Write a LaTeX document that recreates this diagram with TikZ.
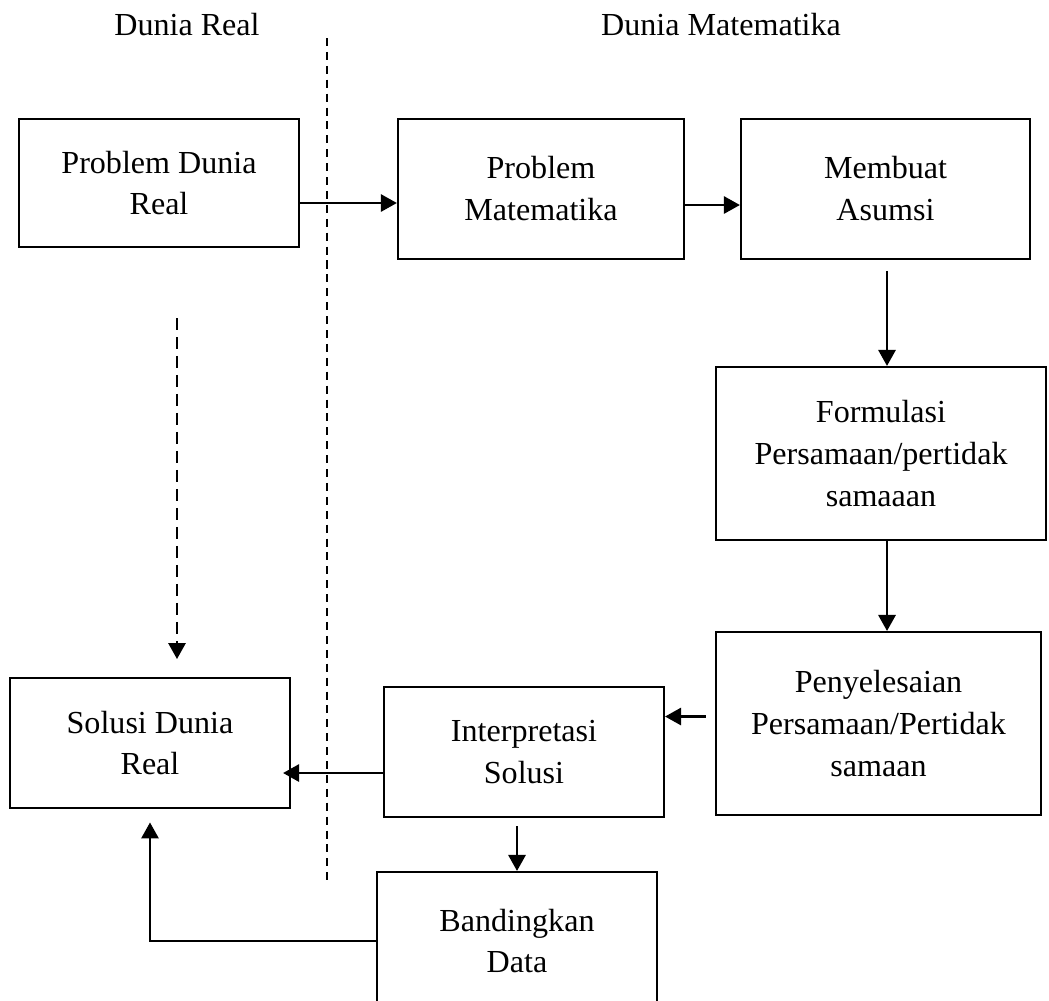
\documentclass[tikz,border=0pt]{standalone}
\usepackage{fontspec}
\setmainfont{Liberation Serif}
\usetikzlibrary{arrows.meta,calc}

\begin{document}
\begin{tikzpicture}[x=0.374pt,y=-0.374pt,
  kotak/.style={draw,line width=0.8pt,align=center,inner sep=0pt,font=\fontsize{12}{15.7}\selectfont},
  judul/.style={font=\fontsize{12}{15.7}\selectfont},
  panah/.style={-{Triangle[length=6pt,width=6.4pt]},line width=1pt}]
\useasboundingbox (0,0) rectangle (1049,1000);
% judul kedua dunia
\node[judul] (jreal) at (187,25) {Dunia Real};
\node[judul] (jmat) at (721,25) {Dunia Matematika};
% garis pemisah
\coordinate (pisahatas) at (327,38);
\coordinate (pisahbawah) at (327,880);
\draw[line width=0.6pt,dash pattern=on 3pt off 2.2pt] (pisahatas) -- (pisahbawah);
% kotak-kotak
\node[kotak,minimum width=104.7pt,minimum height=47.9pt] (b1) at (159,183) {Problem Dunia\\Real};
\node[kotak,minimum width=107pt,minimum height=52.4pt] (b2) at (541,189) {Problem\\Matematika};
\node[kotak,minimum width=108.1pt,minimum height=52.4pt] (b3) at (885.5,189) {Membuat\\Asumsi};
\node[kotak,minimum width=123.4pt,minimum height=64.7pt] (b4) at (881,453.5) {Formulasi\\Persamaan/pertidak\\samaaan};
\node[kotak,minimum width=121.6pt,minimum height=68.4pt] (b5) at (878.5,723.5) {Penyelesaian\\Persamaan/Pertidak\\samaan};
\node[kotak,minimum width=104.7pt,minimum height=48.6pt] (b6) at (524,752) {Interpretasi\\Solusi};
\node[kotak,minimum width=104.7pt,minimum height=48.6pt] (b7) at (150,743) {Solusi Dunia\\Real};
\node[kotak,minimum width=104.7pt,minimum height=51.6pt] (b8) at (517,941) {Bandingkan\\Data};
% panah
\coordinate (p1) at ($(b1.east)+(0,20)$);
\draw[panah] (p1) -- (p1 -| b2.west);
\coordinate (p2) at ($(b2.east)+(0,16)$);
\draw[panah] (p2) -- (p2 -| b3.west);
\draw[panah,shorten <=4pt] ($(b3.south)+(1.5,0)$) -- ($(b3.south |- b4.north)+(1.5,0)$);
\draw[panah] ($(b4.south)+(6,0)$) -- ($(b4.south |- b5.north)+(6,0)$);
\coordinate (p5) at ($(b5.west)+(-9,-7)$);
\draw[panah] (p5) -- (p5 -| b6.east);
\coordinate (p6) at ($(b6.west)+(0,21)$);
\draw[panah] (p6) -- ($(p6 -| b7.east)+(-8,0)$);
\draw[panah,shorten <=3pt] (b6.south -| b8.north) -- (b8.north);
\draw[panah,shorten >=5pt] (b8.west) -| (b7.south);
\coordinate (mulai) at (177,318);
\draw[panah,dash pattern=on 4.5pt off 2.6pt,shorten >=6.7pt] (mulai) -- (mulai |- b7.north);
\end{tikzpicture}
\end{document}
